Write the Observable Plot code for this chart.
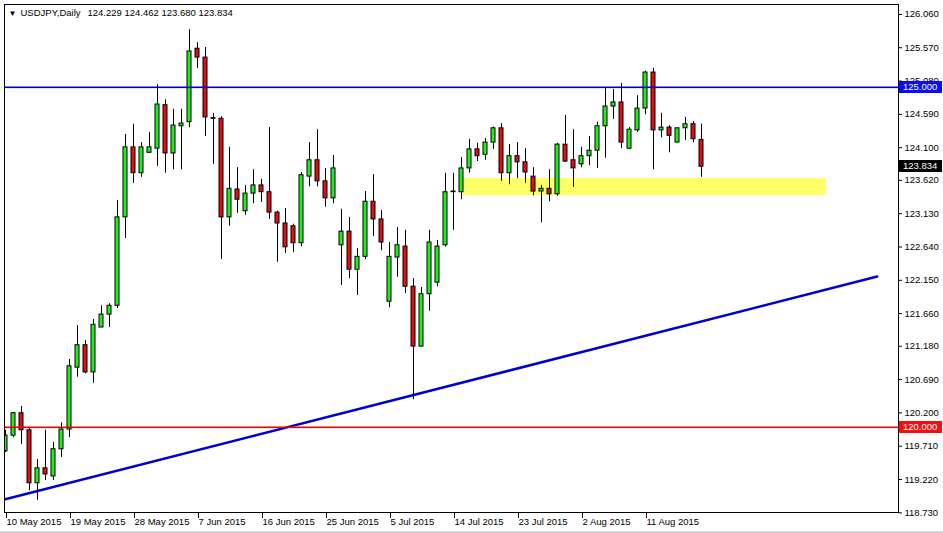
<!DOCTYPE html>
<html><head><meta charset="utf-8">
<script src="https://cdn.jsdelivr.net/npm/d3@7"></script>
<script src="https://cdn.jsdelivr.net/npm/@observablehq/plot@0.6"></script>
<style>
html,body{margin:0;padding:0;background:#fff;}
#chart{width:943px;height:533px;overflow:hidden;}
</style></head><body><div id="chart"></div>
<script>
const symbolText = "USDJPY,Daily";
const ohlcText = "124.229 124.462 123.680 123.834";

const opens = [119.65,119.88,120.21,119.96,119.18,119.40,119.28,119.68,119.97,120.88,
121.21,120.81,121.47,121.66,121.79,123.09,124.12,123.74,124.04,124.10,
124.74,124.03,124.43,124.49,125.57,125.44,124.54,124.54,123.09,123.50,
123.18,123.44,123.56,123.46,123.16,123.00,122.96,122.71,123.69,123.93,
123.62,123.37,122.68,122.88,122.32,122.51,123.32,123.06,121.85,122.50,
122.66,122.07,121.19,121.96,122.13,122.68,123.46,123.46,123.81,124.09,
124.01,124.19,124.40,123.74,123.99,123.90,123.69,123.47,123.51,123.43,
124.16,123.93,123.87,123.99,124.07,124.43,124.72,124.78,124.10,124.37,
124.69,125.22,124.37,124.41,124.19,124.40,124.46,124.229];
const highs = [119.96,120.22,120.31,119.99,119.53,119.96,119.78,120.07,121.00,121.50,
121.28,121.59,121.79,121.82,123.34,124.31,124.46,124.19,124.34,125.04,
124.82,124.68,124.68,125.85,125.66,125.59,124.62,124.57,124.12,123.82,
123.56,123.79,123.65,124.41,123.18,123.22,122.99,123.75,124.19,124.38,
123.81,124.00,123.21,123.09,122.63,123.47,123.72,123.19,122.72,122.94,
122.90,122.19,122.06,122.90,122.75,123.74,123.74,123.97,124.24,124.18,
124.25,124.42,124.47,124.16,124.19,124.10,123.82,123.56,123.79,124.18,
124.59,124.38,124.12,124.28,124.49,124.99,124.97,125.06,124.41,124.88,
125.24,125.28,124.62,124.44,124.40,124.56,124.50,124.462];
const lows = [119.63,119.85,119.75,119.07,118.93,119.22,119.22,119.56,119.85,120.74,
120.79,120.65,121.47,121.47,121.75,122.78,123.59,123.68,124.03,123.84,
123.74,123.79,123.79,124.41,125.28,124.28,123.87,122.47,122.96,123.15,
123.12,123.29,123.31,123.06,122.43,122.56,122.57,122.66,123.54,123.54,
123.24,123.29,122.09,122.19,121.94,122.47,122.81,122.60,121.76,122.21,
121.97,120.41,121.18,121.71,122.07,122.65,122.90,123.35,123.74,123.91,
123.93,124.09,123.62,123.57,123.66,123.59,123.41,123.01,123.32,123.40,
123.90,123.53,123.82,123.85,123.81,123.96,124.53,124.10,124.09,124.34,
124.60,123.79,124.26,124.04,124.19,124.22,124.19,123.680];
const closes = [119.88,120.21,119.96,119.18,119.40,119.31,119.68,119.97,120.90,121.21,
120.81,121.51,121.66,121.79,123.09,124.12,123.74,124.12,124.12,124.75,
124.03,124.44,124.47,125.53,125.44,124.56,124.55,123.09,123.51,123.35,
123.44,123.56,123.46,123.16,123.00,122.65,122.71,123.71,123.93,123.62,
123.37,123.81,122.88,122.32,122.51,123.32,123.06,122.72,122.51,122.68,
122.07,121.19,121.96,122.72,122.66,123.46,123.47,123.81,124.09,123.99,
124.19,124.40,123.74,123.99,123.90,123.75,123.47,123.51,123.43,124.16,
123.91,123.81,123.99,124.07,124.43,124.72,124.78,124.19,124.38,124.69,
125.22,124.37,124.41,124.29,124.40,124.46,124.24,123.834];

const dateTickIndex = [0,8,16,24,32,40,48,56,64,72,80];
const dateTickLabels = ["10 May 2015","19 May 2015","28 May 2015","7 Jun 2015","16 Jun 2015","25 Jun 2015","5 Jul 2015","14 Jul 2015","23 Jul 2015","2 Aug 2015","11 Aug 2015"];
const priceTicks = [126.06,125.57,125.08,124.59,124.10,123.62,123.13,122.64,122.15,121.66,121.18,120.69,120.20,119.71,119.22,118.73];

const bluePrice = 125.000;
const redPrice = 120.000;
const lastPrice = 123.834;
const trendIdx = [-0.16, 108.96];
const trendPrice = [118.94, 122.22];
const zoneIdx = [57.2, 102.6];
const zonePrice = [123.41, 123.66];

const candles = opens.map((o, i) => ({i, open: o, high: highs[i], low: lows[i], close: closes[i]}));
const trend = trendIdx.map((t, k) => ({i: t, p: trendPrice[k]}));
const zone = [{i1: zoneIdx[0], i2: zoneIdx[1], p1: zonePrice[0], p2: zonePrice[1]}];
const levelLines = [
  {p: bluePrice, color: "rgb(0,0,200)"},
  {p: redPrice, color: "rgb(240,0,0)"}
];
const boxes = [
  {p: bluePrice, color: "rgb(12,12,240)"},
  {p: redPrice, color: "rgb(240,16,16)"},
  {p: lastPrice, color: "rgb(0,0,0)"}
];

const FONT = "'Liberation Sans', Arial, sans-serif";

function levelsAndBoxes(index, scales, values, dims) {
  const g = d3.create("svg:g").attr("font-family", FONT).attr("font-size", "9.5px").attr("text-anchor", "start");
  const xa = dims.marginLeft + 1, xb = dims.width - dims.marginRight;
  for (const l of levelLines) {
    const yy = Math.round(scales.y(l.p));
    g.append("rect").attr("x", xa).attr("y", yy - 0.5).attr("width", xb - xa).attr("height", 1.6)
      .style("fill", l.color).style("stroke", "none");
  }
  const x0 = dims.width - dims.marginRight + 1;
  for (const b of boxes) {
    const yy = Math.round(scales.y(b.p));
    g.append("rect").attr("x", x0).attr("y", yy - 6).attr("width", 43).attr("height", 12).style("fill", b.color);
    g.append("text").attr("x", x0 + 4).attr("y", yy).attr("dy", "0.36em").style("fill", "#fff").text(b.p.toFixed(3));
  }
  g.append("rect").attr("x", 0).attr("y", dims.height - 2).attr("width", dims.width).attr("height", 2).style("fill", "#d8d8d8");
  return g.node();
}

const chart = Plot.plot({
  width: 943, height: 533,
  marginLeft: 4, marginRight: 45, marginTop: 4, marginBottom: 21,
  style: {fontFamily: FONT, fontSize: "9.5px", background: "#fff", color: "#000"},
  x: {type: "linear", domain: [-0.125, 111.625], axis: null, label: null},
  y: {domain: [118.75, 126.2206], axis: null, label: null},
  color: {type: "identity"},
  marks: [
    Plot.rect(zone, {x1: "i1", x2: "i2", y1: "p1", y2: "p2", fill: "#ffff66", clip: true}),
    Plot.ruleX(candles, {x: "i", y1: "low", y2: "high", stroke: "#000", strokeWidth: 1, clip: true}),
    Plot.rect(candles, {x1: d => d.i - 0.25, x2: d => d.i + 0.25, y1: "open", y2: "close",
      fill: d => d.close >= d.open ? "#22ee22" : "#e01010", stroke: "#000", strokeWidth: 1, clip: true}),
    Plot.line(trend, {x: "i", y: "p", stroke: "#0000cc", strokeWidth: 2.5, clip: true}),
    Plot.frame({stroke: "#000"}),
    Plot.axisY(priceTicks, {anchor: "right", tickSize: 3, tickPadding: 3, tickFormat: d => d.toFixed(3), dy: -1}),
    Plot.axisX(dateTickIndex, {anchor: "bottom", tickSize: 6, tickPadding: 0, textAnchor: "start", dx: 1,
      tickFormat: d => dateTickLabels[dateTickIndex.indexOf(d)]}),
    Plot.text(["▼"], {frameAnchor: "top-left", dx: 4, dy: 6, lineAnchor: "top", textAnchor: "start", fontSize: 8}),
    Plot.text([symbolText], {frameAnchor: "top-left", dx: 16, dy: 5, lineAnchor: "top", textAnchor: "start"}),
    Plot.text([ohlcText], {frameAnchor: "top-left", dx: 83, dy: 5, lineAnchor: "top", textAnchor: "start"}),
    levelsAndBoxes
  ]
});
document.getElementById("chart").appendChild(chart);
</script>
</body></html>
